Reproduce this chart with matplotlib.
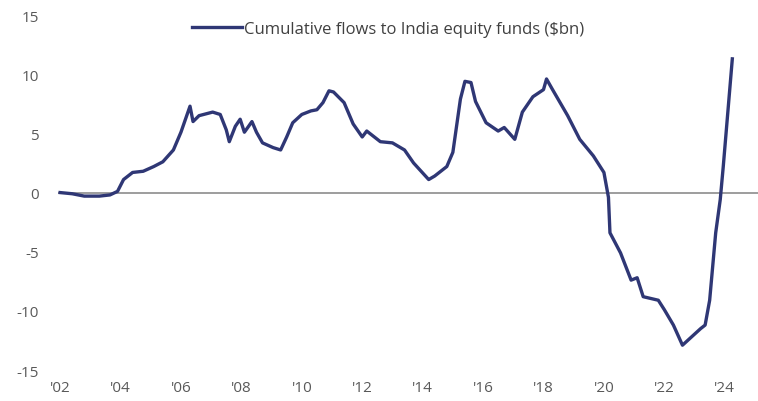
import matplotlib.pyplot as plt

# Points (decimal year, $bn)
years = [2002.0, 2002.4, 2002.8, 2003.3, 2003.65, 2003.9, 2004.1, 2004.4, 2004.75,
         2005.1, 2005.4, 2005.75, 2006.0, 2006.3, 2006.4, 2006.6, 2007.05, 2007.3,
         2007.5, 2007.6, 2007.8, 2007.96, 2008.1, 2008.35, 2008.5, 2008.7, 2009.05,
         2009.3, 2009.5, 2009.7, 2010.0, 2010.3, 2010.5, 2010.7, 2010.9, 2011.05,
         2011.4, 2011.7, 2012.0, 2012.15, 2012.6, 2013.0, 2013.4, 2013.7, 2014.2, 2014.4,
         2014.8, 2015.0, 2015.25, 2015.4, 2015.6, 2015.75, 2016.1, 2016.5, 2016.7,
         2017.05, 2017.3, 2017.65, 2018.0, 2018.1, 2018.3, 2018.8, 2019.2, 2019.65,
         2020.0, 2020.15, 2020.2, 2020.55, 2020.9, 2021.1, 2021.3, 2021.8, 2022.0,
         2022.3, 2022.6, 2022.9, 2023.2, 2023.35, 2023.5, 2023.7, 2023.85, 2023.95,
         2024.25]
flows = [0.0, -0.1, -0.3, -0.3, -0.2, 0.1, 1.1, 1.7, 1.8,
         2.2, 2.6, 3.6, 5.1, 7.3, 6.0, 6.5, 6.8, 6.6,
         5.3, 4.3, 5.6, 6.2, 5.1, 6.0, 5.1, 4.2, 3.8,
         3.6, 4.7, 5.9, 6.6, 6.9, 7.0, 7.6, 8.6, 8.5,
         7.6, 5.8, 4.7, 5.2, 4.3, 4.2, 3.6, 2.5, 1.1, 1.4,
         2.2, 3.4, 7.9, 9.4, 9.3, 7.7, 5.9, 5.2, 5.5,
         4.5, 6.8, 8.1, 8.7, 9.6, 8.7, 6.5, 4.5, 3.1,
         1.7, -0.4, -3.4, -5.1, -7.4, -7.2, -8.8, -9.1, -9.9,
         -11.2, -12.9, -12.2, -11.5, -11.2, -9.1, -3.4, -0.6, 2.2,
         11.3]

tick_years = list(range(2002, 2025, 2))
tick_labels = ["'%02d" % (y % 100) for y in tick_years]
y_ticks = [-15, -10, -5, 0, 5, 10, 15]

plt.rcParams['font.family'] = ['Open Sans', 'DejaVu Sans']
plt.rcParams['axes.unicode_minus'] = False

fig = plt.figure(figsize=(7.58, 4.02), dpi=100)
ax = fig.add_axes([0.0765, 0.077, 0.9235, 0.883])

ax.axhline(0, color='#8c8c8c', lw=1.2, zorder=1)
ax.plot(years, flows, color='#2f3775', lw=2.4, solid_joinstyle='round',
        label='Cumulative flows to India equity funds ($bn)', zorder=2)

ax.set_xlim(2001.93, 2025.1)
ax.set_ylim(-15, 15)
ax.set_xticks(tick_years)
ax.set_xticklabels(tick_labels)
ax.set_yticks(y_ticks)
ax.tick_params(length=0, labelsize=11, colors='#595959')
ax.tick_params(axis='y', pad=14)
ax.tick_params(axis='x', pad=7)
for s in ax.spines.values():
    s.set_visible(False)

leg = ax.legend(loc='center', bbox_to_anchor=(0.472, 0.96), frameon=False,
                fontsize=12, handlelength=3.0, handletextpad=0.1,
                borderpad=0, borderaxespad=0)
for t in leg.get_texts():
    t.set_color('#404040')

fig.savefig('out.png', dpi=100)
